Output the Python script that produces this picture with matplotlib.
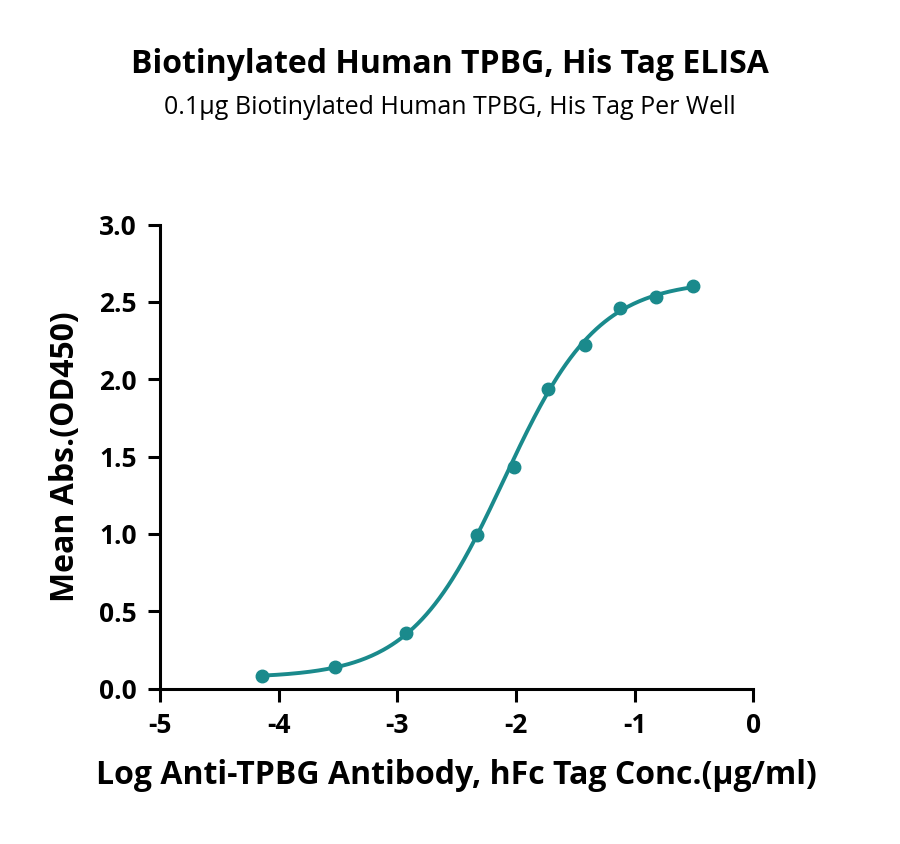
import numpy as np
import matplotlib
matplotlib.use("Agg")
import matplotlib.pyplot as plt

plt.rcParams['font.family'] = ['Open Sans', 'DejaVu Sans']

log_conc = [-4.14, -3.53, -2.93, -2.33, -2.02, -1.73, -1.42, -1.12, -0.82, -0.51]
od450 = [0.084, 0.142, 0.36, 0.995, 1.435, 1.94, 2.22, 2.46, 2.53, 2.60]

x = np.array(log_conc); y = np.array(od450)

def f(xx, b, t, c, h):
    return b + (t - b) / (1 + 10 ** ((c - xx) * h))

best = None
for b in np.linspace(0.0, 0.1, 11):
    for t in np.linspace(2.5, 2.9, 21):
        for c in np.linspace(-2.3, -1.8, 26):
            for h in np.linspace(0.7, 1.6, 19):
                e = np.sum((f(x, b, t, c, h) - y) ** 2)
                if best is None or e < best[0]:
                    best = (e, b, t, c, h)
_, b, t, c, h = best

color = '#1a8a8c'
fig = plt.figure(figsize=(9, 8.44), dpi=100)
ax = fig.add_axes([0.178, 0.184, 0.659, 0.55])
xs = np.linspace(x.min(), x.max(), 300)
ax.plot(xs, f(xs, b, t, c, h), color=color, lw=2.8)
ax.plot(x, y, 'o', color=color, ms=9)

ax.set_xlim(-5, 0)
ax.set_ylim(0, 3.0)
ax.set_xticks([-5, -4, -3, -2, -1, 0])
ax.set_xticklabels(['-5', '-4', '-3', '-2', '-1', '0'])
ax.set_yticks([0, 0.5, 1.0, 1.5, 2.0, 2.5, 3.0])
ax.set_yticklabels(['0.0', '0.5', '1.0', '1.5', '2.0', '2.5', '3.0'])
for s in ['top', 'right']:
    ax.spines[s].set_visible(False)
for s in ['left', 'bottom']:
    ax.spines[s].set_linewidth(2.2)
ax.tick_params(width=2.2, length=9, labelsize=19, pad=8)
for lab in ax.get_xticklabels() + ax.get_yticklabels():
    lab.set_fontweight('bold')

ax.set_xlabel('Log Anti-TPBG Antibody, hFc Tag Conc.(μg/ml)', fontsize=23, fontweight='bold', labelpad=14)
ax.set_ylabel('Mean Abs.(OD450)', fontsize=23, fontweight='bold', labelpad=12)

fig.text(0.5, 0.913, 'Biotinylated Human TPBG, His Tag ELISA', ha='center', fontsize=23, fontweight='bold')
fig.text(0.5, 0.865, '0.1μg Biotinylated Human TPBG, His Tag Per Well', ha='center', fontsize=18)

fig.savefig('out.png', dpi=100)
